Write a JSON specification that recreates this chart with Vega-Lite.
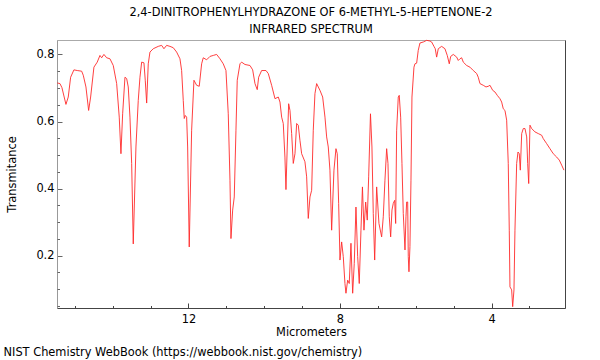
{
  "$schema": "https://vega.github.io/schema/vega-lite/v6.json",
  "width": 508,
  "height": 268,
  "autosize": {"type": "none"},
  "padding": {"left": 57, "top": 40, "right": 35, "bottom": 52},
  "background": "white",
  "title": {
    "text": ["2,4-DINITROPHENYLHYDRAZONE OF 6-METHYL-5-HEPTENONE-2", "INFRARED SPECTRUM"],
    "font": "DejaVu Sans",
    "fontSize": 11.4,
    "fontWeight": "normal",
    "color": "#000",
    "anchor": "middle",
    "frame": "group",
    "lineHeight": 17,
    "offset": 3
  },
  "config": {
    "view": {"stroke": "#aaa", "strokeWidth": 1},
    "axis": {"grid": false, "labelFont": "DejaVu Sans", "titleFont": "DejaVu Sans", "labelFontSize": 11.4, "titleFontSize": 11.4, "titleFontWeight": "normal", "labelColor": "#000", "titleColor": "#000"}
  },
  "data": {"values": [
    {"um": 15.464, "t": 0.715}, {"um": 15.392, "t": 0.713}, {"um": 15.34, "t": 0.701}, {"um": 15.234, "t": 0.651},
    {"um": 15.173, "t": 0.673}, {"um": 15.11, "t": 0.732}, {"um": 15.023, "t": 0.754}, {"um": 14.936, "t": 0.752},
    {"um": 14.819, "t": 0.75}, {"um": 14.777, "t": 0.738}, {"um": 14.706, "t": 0.703}, {"um": 14.635, "t": 0.633},
    {"um": 14.582, "t": 0.673}, {"um": 14.495, "t": 0.762}, {"um": 14.408, "t": 0.777}, {"um": 14.336, "t": 0.797},
    {"um": 14.291, "t": 0.79}, {"um": 14.231, "t": 0.8}, {"um": 14.159, "t": 0.79}, {"um": 14.072, "t": 0.787},
    {"um": 13.985, "t": 0.767}, {"um": 13.895, "t": 0.713}, {"um": 13.827, "t": 0.613}, {"um": 13.782, "t": 0.504},
    {"um": 13.737, "t": 0.623}, {"um": 13.676, "t": 0.732}, {"um": 13.631, "t": 0.728}, {"um": 13.589, "t": 0.703},
    {"um": 13.544, "t": 0.613}, {"um": 13.499, "t": 0.475}, {"um": 13.457, "t": 0.235}, {"um": 13.386, "t": 0.524},
    {"um": 13.325, "t": 0.663}, {"um": 13.28, "t": 0.732}, {"um": 13.235, "t": 0.777}, {"um": 13.175, "t": 0.775},
    {"um": 13.14, "t": 0.723}, {"um": 13.103, "t": 0.655}, {"um": 13.061, "t": 0.772}, {"um": 13.016, "t": 0.807},
    {"um": 12.929, "t": 0.817}, {"um": 12.797, "t": 0.824}, {"um": 12.708, "t": 0.827}, {"um": 12.647, "t": 0.817},
    {"um": 12.576, "t": 0.827}, {"um": 12.488, "t": 0.824}, {"um": 12.401, "t": 0.82}, {"um": 12.312, "t": 0.807},
    {"um": 12.224, "t": 0.787}, {"um": 12.18, "t": 0.752}, {"um": 12.137, "t": 0.663}, {"um": 12.111, "t": 0.609},
    {"um": 12.084, "t": 0.618}, {"um": 12.048, "t": 0.613}, {"um": 12.021, "t": 0.524}, {"um": 11.979, "t": 0.226},
    {"um": 11.916, "t": 0.574}, {"um": 11.855, "t": 0.723}, {"um": 11.784, "t": 0.708}, {"um": 11.715, "t": 0.705},
    {"um": 11.652, "t": 0.772}, {"um": 11.609, "t": 0.79}, {"um": 11.52, "t": 0.784}, {"um": 11.432, "t": 0.794},
    {"um": 11.345, "t": 0.797}, {"um": 11.256, "t": 0.8}, {"um": 11.168, "t": 0.787}, {"um": 11.081, "t": 0.772},
    {"um": 11.01, "t": 0.752}, {"um": 10.949, "t": 0.623}, {"um": 10.904, "t": 0.425}, {"um": 10.878, "t": 0.251},
    {"um": 10.833, "t": 0.336}, {"um": 10.791, "t": 0.375}, {"um": 10.746, "t": 0.574}, {"um": 10.712, "t": 0.723},
    {"um": 10.64, "t": 0.772}, {"um": 10.596, "t": 0.777}, {"um": 10.508, "t": 0.77}, {"um": 10.376, "t": 0.767},
    {"um": 10.305, "t": 0.754}, {"um": 10.244, "t": 0.713}, {"um": 10.184, "t": 0.695}, {"um": 10.147, "t": 0.732},
    {"um": 10.068, "t": 0.752}, {"um": 9.954, "t": 0.752}, {"um": 9.893, "t": 0.743}, {"um": 9.804, "t": 0.708},
    {"um": 9.716, "t": 0.668}, {"um": 9.629, "t": 0.673}, {"um": 9.584, "t": 0.658}, {"um": 9.54, "t": 0.613},
    {"um": 9.497, "t": 0.594}, {"um": 9.453, "t": 0.494}, {"um": 9.426, "t": 0.397}, {"um": 9.392, "t": 0.524},
    {"um": 9.355, "t": 0.653}, {"um": 9.32, "t": 0.633}, {"um": 9.276, "t": 0.564}, {"um": 9.233, "t": 0.475},
    {"um": 9.188, "t": 0.504}, {"um": 9.144, "t": 0.594}, {"um": 9.101, "t": 0.589}, {"um": 9.057, "t": 0.544},
    {"um": 9.012, "t": 0.504}, {"um": 8.925, "t": 0.48}, {"um": 8.88, "t": 0.435}, {"um": 8.837, "t": 0.311},
    {"um": 8.792, "t": 0.375}, {"um": 8.748, "t": 0.395}, {"um": 8.705, "t": 0.574}, {"um": 8.661, "t": 0.683},
    {"um": 8.616, "t": 0.713}, {"um": 8.529, "t": 0.693}, {"um": 8.457, "t": 0.673}, {"um": 8.396, "t": 0.613},
    {"um": 8.352, "t": 0.554}, {"um": 8.309, "t": 0.524}, {"um": 8.265, "t": 0.455}, {"um": 8.22, "t": 0.276},
    {"um": 8.159, "t": 0.455}, {"um": 8.106, "t": 0.519}, {"um": 8.072, "t": 0.504}, {"um": 8.035, "t": 0.356},
    {"um": 8.0, "t": 0.187}, {"um": 7.956, "t": 0.241}, {"um": 7.913, "t": 0.197}, {"um": 7.869, "t": 0.117},
    {"um": 7.842, "t": 0.088}, {"um": 7.797, "t": 0.127}, {"um": 7.755, "t": 0.117}, {"um": 7.71, "t": 0.237},
    {"um": 7.665, "t": 0.088}, {"um": 7.623, "t": 0.177}, {"um": 7.578, "t": 0.345}, {"um": 7.533, "t": 0.197},
    {"um": 7.491, "t": 0.117}, {"um": 7.446, "t": 0.276}, {"um": 7.407, "t": 0.405}, {"um": 7.367, "t": 0.276},
    {"um": 7.322, "t": 0.36}, {"um": 7.28, "t": 0.306}, {"um": 7.243, "t": 0.435}, {"um": 7.195, "t": 0.623},
    {"um": 7.156, "t": 0.524}, {"um": 7.121, "t": 0.326}, {"um": 7.084, "t": 0.187}, {"um": 7.032, "t": 0.405},
    {"um": 6.971, "t": 0.296}, {"um": 6.9, "t": 0.256}, {"um": 6.857, "t": 0.316}, {"um": 6.813, "t": 0.425},
    {"um": 6.768, "t": 0.519}, {"um": 6.733, "t": 0.475}, {"um": 6.699, "t": 0.316}, {"um": 6.662, "t": 0.256},
    {"um": 6.628, "t": 0.336}, {"um": 6.593, "t": 0.356}, {"um": 6.556, "t": 0.365}, {"um": 6.53, "t": 0.296},
    {"um": 6.504, "t": 0.574}, {"um": 6.461, "t": 0.673}, {"um": 6.435, "t": 0.678}, {"um": 6.398, "t": 0.613},
    {"um": 6.364, "t": 0.475}, {"um": 6.329, "t": 0.326}, {"um": 6.284, "t": 0.217}, {"um": 6.258, "t": 0.316},
    {"um": 6.24, "t": 0.36}, {"um": 6.213, "t": 0.36}, {"um": 6.197, "t": 0.197}, {"um": 6.179, "t": 0.152},
    {"um": 6.153, "t": 0.227}, {"um": 6.126, "t": 0.425}, {"um": 6.1, "t": 0.673}, {"um": 6.047, "t": 0.762},
    {"um": 6.021, "t": 0.772}, {"um": 5.976, "t": 0.774}, {"um": 5.934, "t": 0.812}, {"um": 5.889, "t": 0.834},
    {"um": 5.801, "t": 0.837}, {"um": 5.712, "t": 0.842}, {"um": 5.625, "t": 0.84}, {"um": 5.58, "t": 0.837},
    {"um": 5.519, "t": 0.824}, {"um": 5.485, "t": 0.817}, {"um": 5.448, "t": 0.792}, {"um": 5.405, "t": 0.817},
    {"um": 5.316, "t": 0.824}, {"um": 5.229, "t": 0.817}, {"um": 5.168, "t": 0.797}, {"um": 5.115, "t": 0.772},
    {"um": 5.078, "t": 0.794}, {"um": 5.009, "t": 0.8}, {"um": 4.92, "t": 0.792}, {"um": 4.877, "t": 0.782},
    {"um": 4.833, "t": 0.787}, {"um": 4.788, "t": 0.79}, {"um": 4.745, "t": 0.777}, {"um": 4.656, "t": 0.767},
    {"um": 4.569, "t": 0.762}, {"um": 4.481, "t": 0.752}, {"um": 4.392, "t": 0.743}, {"um": 4.35, "t": 0.732},
    {"um": 4.305, "t": 0.713}, {"um": 4.218, "t": 0.708}, {"um": 4.146, "t": 0.703}, {"um": 4.086, "t": 0.705},
    {"um": 4.04, "t": 0.708}, {"um": 3.969, "t": 0.693}, {"um": 3.909, "t": 0.688}, {"um": 3.848, "t": 0.678},
    {"um": 3.777, "t": 0.668}, {"um": 3.732, "t": 0.658}, {"um": 3.69, "t": 0.638}, {"um": 3.645, "t": 0.633},
    {"um": 3.6, "t": 0.604}, {"um": 3.558, "t": 0.475}, {"um": 3.531, "t": 0.276}, {"um": 3.513, "t": 0.107},
    {"um": 3.468, "t": 0.098}, {"um": 3.441, "t": 0.048}, {"um": 3.407, "t": 0.098}, {"um": 3.381, "t": 0.276},
    {"um": 3.336, "t": 0.475}, {"um": 3.301, "t": 0.509}, {"um": 3.267, "t": 0.504}, {"um": 3.24, "t": 0.455},
    {"um": 3.203, "t": 0.564}, {"um": 3.161, "t": 0.579}, {"um": 3.116, "t": 0.579}, {"um": 3.071, "t": 0.554},
    {"um": 3.045, "t": 0.475}, {"um": 3.018, "t": 0.415}, {"um": 2.985, "t": 0.589}, {"um": 2.94, "t": 0.579},
    {"um": 2.853, "t": 0.569}, {"um": 2.765, "t": 0.564}, {"um": 2.676, "t": 0.559}, {"um": 2.634, "t": 0.549},
    {"um": 2.544, "t": 0.534}, {"um": 2.457, "t": 0.519}, {"um": 2.37, "t": 0.504}, {"um": 2.28, "t": 0.494},
    {"um": 2.211, "t": 0.485}, {"um": 2.148, "t": 0.47}, {"um": 2.088, "t": 0.455}
  ]},
  "layer": [
    {
      "mark": {"type": "line", "color": "#ff2a2a", "strokeWidth": 0.9},
      "encoding": {
        "x": {"field": "um", "type": "quantitative",
          "scale": {"domain": [2.06, 15.47], "reverse": true, "nice": false, "zero": false},
          "axis": {"orient": "bottom", "values": [12, 8, 4], "title": "Micrometers", "tickSize": -5, "labelPadding": 10.5,
            "domainColor": "#444", "tickColor": "#444", "titleX": 254, "titleY": 24, "titleBaseline": "middle", "titleAnchor": null}},
        "y": {"field": "t", "type": "quantitative",
          "scale": {"domain": [0.044, 0.843], "nice": false, "zero": false},
          "axis": {"orient": "left", "values": [0.2, 0.4, 0.6, 0.8], "format": ".1f", "title": "Transmitance", "tickSize": -5, "labelPadding": 8,
            "domainColor": "#999", "tickColor": "#666", "titleX": -45, "titleBaseline": "middle"}}
      }
    },
    {
      "mark": {"type": "line", "strokeOpacity": 0},
      "encoding": {
        "x": {"field": "um", "type": "quantitative",
          "axis": {"orient": "bottom", "values": [15, 14, 13, 11, 10, 9, 7, 6, 5, 3], "labels": false, "domain": false, "title": null, "tickSize": -2.5, "tickColor": "#444"}},
        "y": {"field": "t", "type": "quantitative",
          "axis": {"orient": "left", "values": [0.05, 0.1, 0.15, 0.25, 0.3, 0.35, 0.45, 0.5, 0.55, 0.65, 0.7, 0.75], "labels": false, "domain": false, "title": null, "tickSize": -2.5, "tickColor": "#666"}}
      }
    },
    {
      "mark": {"type": "line", "strokeOpacity": 0},
      "encoding": {
        "x": {"field": "um", "type": "quantitative",
          "axis": {"orient": "bottom", "labels": false, "domain": false, "ticks": false,
            "title": "NIST Chemistry WebBook (https://webbook.nist.gov/chemistry)",
            "titleX": -54, "titleY": 44, "titleAlign": "left", "titleBaseline": "middle", "titleAnchor": null}},
        "y": {"field": "t", "type": "quantitative",
          "axis": {"orient": "right", "labels": false, "ticks": false, "title": null, "domain": true, "domainColor": "#444"}}
      }
    }
  ],
  "resolve": {"axis": {"x": "independent", "y": "independent"}}
}
